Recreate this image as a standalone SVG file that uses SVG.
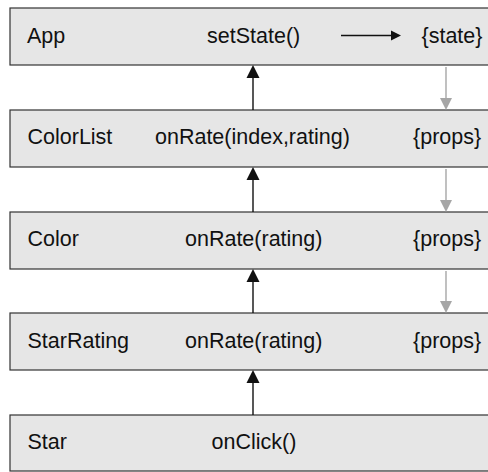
<svg xmlns="http://www.w3.org/2000/svg" width="488" height="472" viewBox="0 0 488 472">
<defs>
<style>
.box{fill:#e6e6e6;stroke:#333;stroke-width:1.2}
text{font-family:"Liberation Sans",Arial,sans-serif;font-size:21.5px;fill:#111}
.up{stroke:#111;stroke-width:1.4;fill:none}
.down{stroke:#a6a6a6;stroke-width:1.4;fill:none}
</style>
</defs>
<rect width="488" height="472" fill="#fff"/>
<g id="app">
<rect class="box" x="10" y="8" width="500" height="57"/>
<text x="27" y="42.5">App</text>
<text x="207" y="42.5">setState()</text>
<text x="421.5" y="42.5">{state}</text>
</g>
<g id="colorlist">
<rect class="box" x="10" y="110" width="500" height="57"/>
<text x="27.5" y="144">ColorList</text>
<text x="155" y="144">onRate(index,rating)</text>
<text x="413" y="144">{props}</text>
</g>
<g id="color">
<rect class="box" x="10" y="212" width="500" height="57"/>
<text x="27.5" y="246">Color</text>
<text x="185" y="246">onRate(rating)</text>
<text x="413" y="246">{props}</text>
</g>
<g id="starrating">
<rect class="box" x="10" y="313" width="500" height="57"/>
<text x="27.5" y="347.5">StarRating</text>
<text x="185" y="347.5">onRate(rating)</text>
<text x="413" y="347.5">{props}</text>
</g>
<g id="star">
<rect class="box" x="10" y="415" width="500" height="56"/>
<text x="27.5" y="449">Star</text>
<text x="211.5" y="449">onClick()</text>
</g>
<g id="connectors">
<line class="up" x1="341" y1="35.5" x2="392" y2="35.5"/>
<polygon points="401,35.5 391,30.5 391,40.5" fill="#111"/>
<line class="up" x1="253" y1="110" x2="253" y2="76"/>
<polygon points="253,65 246.5,78 259.5,78" fill="#111"/>
<line class="up" x1="253" y1="212" x2="253" y2="178"/>
<polygon points="253,167 246.5,180 259.5,180" fill="#111"/>
<line class="up" x1="253" y1="313" x2="253" y2="280"/>
<polygon points="253,269 246.5,282 259.5,282" fill="#111"/>
<line class="up" x1="253" y1="415" x2="253" y2="381"/>
<polygon points="253,370 246.5,383 259.5,383" fill="#111"/>
<line class="down" x1="446" y1="67" x2="446" y2="100"/>
<polygon points="446,110 440,98 452,98" fill="#a6a6a6"/>
<line class="down" x1="446" y1="169" x2="446" y2="202"/>
<polygon points="446,212 440,200 452,200" fill="#a6a6a6"/>
<line class="down" x1="446" y1="271" x2="446" y2="303"/>
<polygon points="446,313 440,301 452,301" fill="#a6a6a6"/>
</g>
</svg>
